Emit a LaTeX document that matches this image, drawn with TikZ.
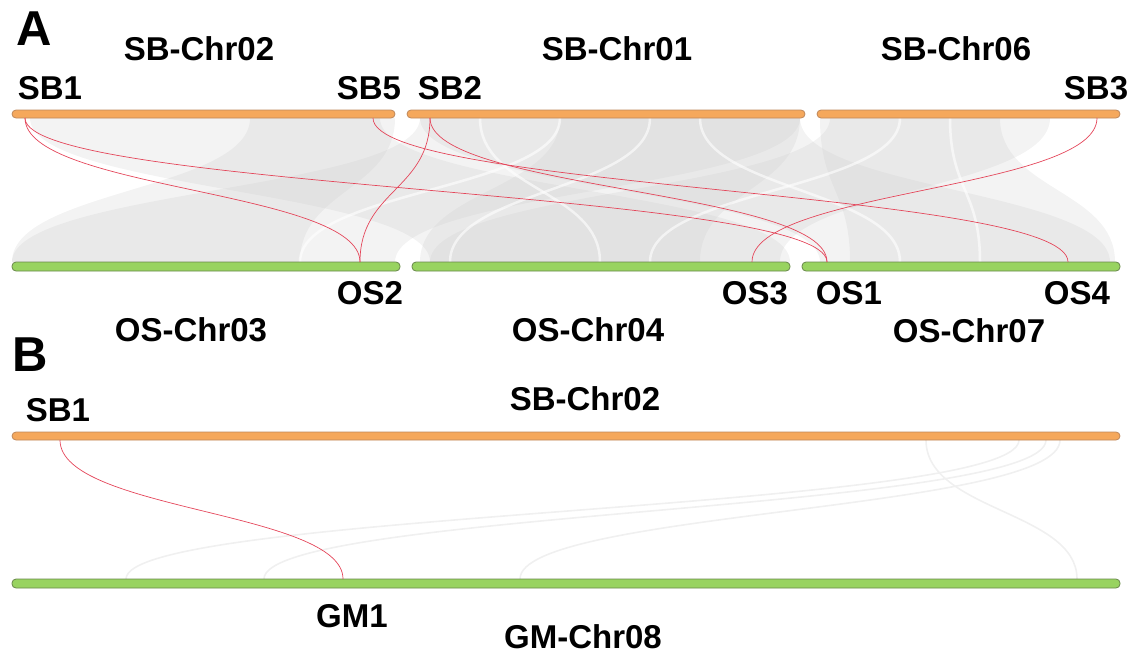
\documentclass[tikz,border=0pt]{standalone}
\usepackage{fontspec}
\setmainfont{Liberation Sans}
\definecolor{sbor}{RGB}{245,168,92}
\definecolor{sbedge}{RGB}{190,135,90}
\definecolor{osgr}{RGB}{152,211,96}
\definecolor{osedge}{RGB}{105,135,75}
\definecolor{linkred}{RGB}{228,70,90}
\definecolor{ribgray}{RGB}{195,195,195}
\newcommand\ribbonA[4]{\fill[rib] (#1,118) .. controls (#1,190) and (#3,190) .. (#3,262) -- (#4,262) .. controls (#4,190) and (#2,190) .. (#2,118) -- cycle;}
\begin{document}
\begin{tikzpicture}[x=1pt,y=-1pt,
  lab/.style={font=\fontsize{33}{36}\selectfont\bfseries, inner sep=0pt},
  panel/.style={font=\fontsize{49}{52}\selectfont\bfseries, inner sep=0pt},
  sbbar/.style={fill=sbor, draw=sbedge, line width=0.8pt, rounded corners=4pt},
  osbar/.style={fill=osgr, draw=osedge, line width=0.8pt, rounded corners=4pt},
  link/.style={draw=linkred, line width=0.7pt},
  rib/.style={fill=ribgray, fill opacity=0.2},
  streak/.style={draw=white, line width=2.5pt, opacity=0.6},
  faint/.style={draw=gray!12, line width=1.6pt}]
\useasboundingbox (0,0) rectangle (1138,654);

% ---------- Panel A: gray synteny ribbons ----------
\ribbonA{420}{800}{12}{395}
\ribbonA{30}{380}{430}{790}
\ribbonA{560}{800}{420}{700}
\ribbonA{830}{1050}{430}{780}
\ribbonA{420}{800}{820}{1110}
\ribbonA{820}{1000}{850}{1115}
\ribbonA{250}{395}{12}{300}
% white streaks
\draw[streak] (480,118) .. controls (480,190) and (600,190) .. (600,262);
\draw[streak] (650,118) .. controls (650,190) and (450,190) .. (450,262);
\draw[streak] (700,118) .. controls (700,190) and (900,190) .. (900,262);
\draw[streak] (900,118) .. controls (900,190) and (650,190) .. (650,262);
\draw[streak] (950,118) .. controls (950,190) and (980,190) .. (980,262);
\draw[streak] (560,118) .. controls (560,190) and (300,190) .. (300,262);

% ---------- Panel A: chromosome bars ----------
\path[sbbar] (12,110) rectangle (395,118);
\path[sbbar] (407,110) rectangle (805,118);
\path[sbbar] (817,110) rectangle (1120,118);
\path[osbar] (12,262) rectangle (400,271);
\path[osbar] (412,262) rectangle (790,271);
\path[osbar] (802,262) rectangle (1120,271);

% gene positions
\coordinate (sb1) at (25,118);
\coordinate (sb5) at (373,118);
\coordinate (sb2) at (430,118);
\coordinate (sb3) at (1097,118);
\coordinate (os2) at (360,262);
\coordinate (os3) at (752,262);
\coordinate (os1) at (827,262);
\coordinate (os4) at (1068,262);

% red links
\draw[link] (sb1) .. controls (25,190) and (360,190) .. (os2);
\draw[link] (sb1) .. controls (25,190) and (827,190) .. (os1);
\draw[link] (sb2) .. controls (430,190) and (360,190) .. (os2);
\draw[link] (sb2) .. controls (430,190) and (827,190) .. (os1);
\draw[link] (sb5) .. controls (373,190) and (1068,190) .. (os4);
\draw[link] (sb3) .. controls (1097,190) and (752,190) .. (os3);

% labels A
\node[panel] (labA) at (34,29) {A};
\node[lab] (c1) at (199,49) {SB-Chr02};
\node[lab] (c2) at (617,49) {SB-Chr01};
\node[lab] (c3) at (956,49) {SB-Chr06};
\node[lab] (g1) at (50,88) {SB1};
\node[lab] (g5) at (369,88) {SB5};
\node[lab] (g2) at (450,88) {SB2};
\node[lab] (g3) at (1096,88) {SB3};
\node[lab] (o2) at (370,293) {OS2};
\node[lab] (o3) at (755,293) {OS3};
\node[lab] (o1) at (849,293) {OS1};
\node[lab] (o4) at (1077,293) {OS4};
\node[lab] (d1) at (191,330) {OS-Chr03};
\node[lab] (d2) at (588,330) {OS-Chr04};
\node[lab] (d3) at (969,331) {OS-Chr07};

% ---------- Panel B ----------
\coordinate (bt1) at (1019,440); \coordinate (bb1) at (126,579);
\coordinate (bt2) at (1046,440); \coordinate (bb2) at (264,579);
\coordinate (bt3) at (1060,440); \coordinate (bb3) at (520,579);
\coordinate (bt4) at (926,440);  \coordinate (bb4) at (1077,579);
\draw[faint] (bb1) .. controls (126,511) and (1019,511) .. (bt1);
\draw[faint] (bb2) .. controls (264,511) and (1046,511) .. (bt2);
\draw[faint] (bb3) .. controls (520,511) and (1060,511) .. (bt3);
\draw[faint] (bt4) .. controls (926,511) and (1077,511) .. (bb4);

\path[sbbar] (12,432) rectangle (1120,440);
\path[osbar] (12,579) rectangle (1120,588);

\coordinate (bsb1) at (60,440);
\coordinate (bgm1) at (343,579);
\draw[link] (bsb1) .. controls (60,511) and (343,511) .. (bgm1);

\node[panel] (labB) at (30,355) {B};
\node[lab] (e1) at (585,399) {SB-Chr02};
\node[lab] (h1) at (58,410) {SB1};
\node[lab] (m1) at (352,616) {GM1};
\node[lab] (f1) at (583,637) {GM-Chr08};
\end{tikzpicture}
\end{document}
